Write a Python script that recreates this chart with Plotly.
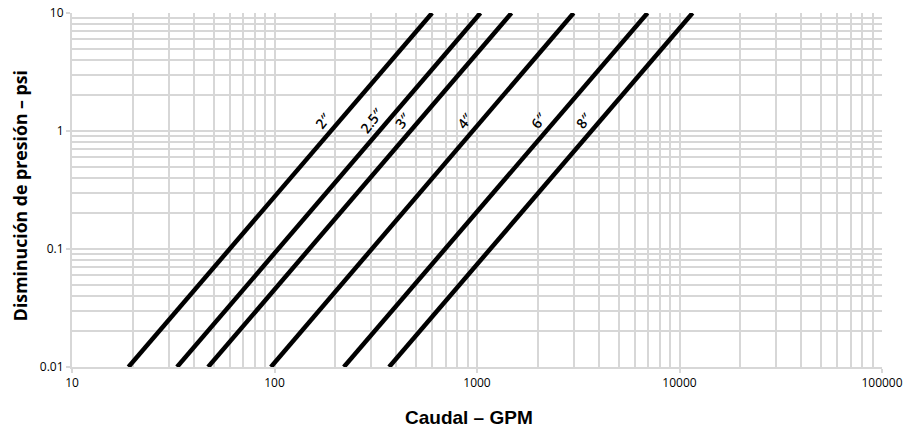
import math
import plotly.graph_objects as go

# Pipe sizes and line endpoints (flow in GPM at 0.01 psi and at 10 psi)
sizes = ['2″', '2.5″', '3″', '4″', '6″', '8″']
flow_low = [19, 33, 47, 96, 220, 368]
flow_high = [600, 1040, 1480, 3000, 6950, 11600]
drop_low = 0.01
drop_high = 10

x_tickvals = [10, 100, 1000, 10000, 100000]
x_ticktext = ['10', '100', '1000', '10000', '100000']
y_tickvals = [0.01, 0.1, 1, 10]
y_ticktext = ['0.01', '0.1', '1', '10']

x_title = 'Caudal – GPM'
y_title = 'Disminución de presión – psi'

label_drop = 1.23

GRID = '#d7d7d7'
FONT = 'Open Sans, Lato, sans-serif'

fig = go.Figure()
for name, a, b in zip(sizes, flow_low, flow_high):
    fig.add_trace(go.Scatter(x=[a, b], y=[drop_low, drop_high], mode='lines',
                             line=dict(color='black', width=4.5),
                             showlegend=False, hoverinfo='skip'))
    # label point on the line
    k = math.log10(b / a) / math.log10(drop_high / drop_low)
    xl = a * (label_drop / drop_low) ** k
    fig.add_annotation(x=math.log10(xl), y=math.log10(label_drop), text=name,
                       showarrow=False, textangle=-52,
                       xshift=-17, yshift=0,
                       font=dict(family=FONT, size=14, color='black', weight=600))

# axis titles
fig.add_annotation(xref='paper', yref='paper', x=0.4907, y=-0.144,
                   xanchor='center', yanchor='middle', showarrow=False,
                   text='<b>' + x_title + '</b>',
                   font=dict(family='Liberation Sans, Arial, sans-serif', size=19, color='black'))
fig.add_annotation(xref='paper', yref='paper', x=-0.0642, y=0.4855,
                   xanchor='center', yanchor='middle', showarrow=False, textangle=-90,
                   text='<b>' + y_title + '</b>',
                   font=dict(family=FONT, size=17.7, color='black'))

axis_common = dict(
    type='log', automargin=False,
    showgrid=True, gridcolor=GRID, gridwidth=2,
    showline=True, linecolor=GRID, linewidth=2,
    ticks='outside', ticklen=4, tickcolor=GRID, tickwidth=2,
    zeroline=False,
    tickfont=dict(family=FONT, size=12, color='black'),
    minor=dict(dtick='D1', showgrid=True, gridcolor=GRID, gridwidth=2, ticks=''),
)

fig.update_layout(
    width=909, height=434,
    margin=dict(l=72, r=27, t=13, b=67),
    plot_bgcolor='white', paper_bgcolor='white',
    xaxis=dict(axis_common, range=[1, 5], tickvals=x_tickvals, ticktext=x_ticktext),
    yaxis=dict(axis_common, range=[-2, 1], tickvals=y_tickvals, ticktext=y_ticktext),
)

fig.write_html('out.html', config={'displayModeBar': False},
               post_script="document.body.style.margin='0';document.body.style.overflow='hidden';")
